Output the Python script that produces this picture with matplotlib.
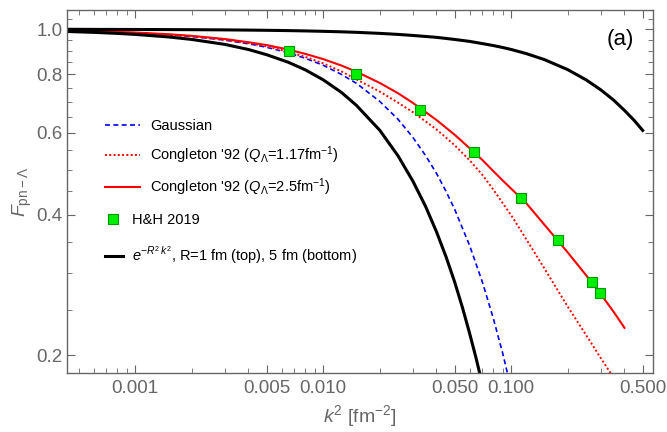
import matplotlib
matplotlib.use("Agg")
import matplotlib.pyplot as plt
from matplotlib.ticker import FixedLocator, FixedFormatter, NullFormatter

plt.rcParams['font.family'] = ['Liberation Sans', 'DejaVu Sans']
plt.rcParams['mathtext.fontset'] = 'custom'
plt.rcParams['mathtext.rm'] = 'Liberation Sans'
plt.rcParams['mathtext.it'] = 'Liberation Sans:italic'
plt.rcParams['mathtext.bf'] = 'Liberation Sans:bold'

# values (k^2 in fm^-2)
k2 = [0.00044, 0.0006, 0.0008, 0.001, 0.0015, 0.002, 0.003, 0.004, 0.005, 0.0065,
      0.008, 0.01, 0.0125, 0.015, 0.02, 0.025, 0.03, 0.04, 0.05, 0.06, 0.07, 0.08,
      0.09, 0.1, 0.12, 0.15, 0.2, 0.25, 0.3, 0.35, 0.4, 0.45, 0.5]

# R = 1 fm (top black curve)
F_R1 = [1.000, 0.9994, 0.9992, 0.999, 0.9985, 0.998, 0.997, 0.996, 0.995, 0.9935,
        0.992, 0.990, 0.9876, 0.9851, 0.980, 0.975, 0.970, 0.961, 0.951, 0.942, 0.932,
        0.923, 0.914, 0.905, 0.887, 0.861, 0.819, 0.779, 0.741, 0.705, 0.670, 0.638, 0.607]

# R = 5 fm (bottom black curve)
k2_R5 = [0.00044, 0.0006, 0.0008, 0.001, 0.0015, 0.002, 0.003, 0.004, 0.005, 0.0065,
         0.008, 0.01, 0.0125, 0.015, 0.02, 0.025, 0.03, 0.035, 0.04, 0.045, 0.05,
         0.055, 0.06, 0.065, 0.07]
F_R5 = [0.989, 0.985, 0.980, 0.975, 0.963, 0.951, 0.928, 0.905, 0.882, 0.850, 0.819,
        0.779, 0.732, 0.687, 0.607, 0.535, 0.472, 0.417, 0.368, 0.325, 0.287, 0.253,
        0.223, 0.197, 0.174]

# Gaussian
k2_gauss = [0.00044, 0.0006, 0.0008, 0.001, 0.0015, 0.002, 0.003, 0.004, 0.005, 0.0065,
            0.008, 0.01, 0.0125, 0.015, 0.02, 0.025, 0.03, 0.035, 0.04, 0.045, 0.05,
            0.06, 0.07, 0.08, 0.09, 0.1]
F_gauss = [0.992, 0.989, 0.986, 0.982, 0.974, 0.965, 0.948, 0.931, 0.915, 0.891, 0.867,
           0.837, 0.800, 0.766, 0.700, 0.641, 0.586, 0.536, 0.491, 0.449, 0.411, 0.344,
           0.288, 0.241, 0.202, 0.169]

# Congleton '92, Q = 1.17 fm^-1
F_cong117 = [0.992, 0.990, 0.986, 0.983, 0.974, 0.966, 0.949, 0.934, 0.919, 0.895, 0.873,
             0.845, 0.812, 0.781, 0.735, 0.696, 0.664, 0.610, 0.564, 0.524, 0.488, 0.454,
             0.424, 0.399, 0.355, 0.307, 0.254, 0.221, 0.197, 0.179]

# Congleton '92, Q = 2.5 fm^-1
F_cong25 = [0.993, 0.990, 0.987, 0.984, 0.976, 0.968, 0.953, 0.938, 0.925, 0.905, 0.886,
            0.863, 0.836, 0.811, 0.767, 0.729, 0.695, 0.639, 0.594, 0.556, 0.525, 0.497,
            0.474, 0.455, 0.424, 0.381, 0.332, 0.297, 0.270, 0.248, 0.229]

# H&H 2019 points
k2_hh = [0.00657, 0.01487, 0.0326, 0.0633, 0.1126, 0.1765, 0.2677, 0.2963]
F_hh = [0.898, 0.801, 0.671, 0.5455, 0.4355, 0.3533, 0.2872, 0.2720]

gray = '#666666'

fig = plt.figure(figsize=(6.67, 4.32), dpi=100)
ax = fig.add_axes([0.1004, 0.1359, 0.879, 0.841])

l_gauss, = ax.plot(k2_gauss, F_gauss, color='#0000ff', lw=1.2, ls=(0, (3, 2)))
l_c117, = ax.plot(k2[:len(F_cong117)], F_cong117, color='#ff0000', lw=1.4, ls=(0, (1, 1.2)))
l_c25, = ax.plot(k2[:len(F_cong25)], F_cong25, color='#ff0000', lw=1.5)
l_hh, = ax.plot(k2_hh, F_hh, ls='none', marker='s', ms=7, mfc='#00ee00', mec='#009900',
                mew=0.8, zorder=5)
l_r1, = ax.plot(k2, F_R1, color='black', lw=2.2)
ax.plot(k2_R5, F_R5, color='black', lw=2.2)

ax.set_xscale('log')
ax.set_yscale('log')
ax.set_xlim(0.000433, 0.569)
ax.set_ylim(0.183, 1.10)

# ticks
xmaj = [0.001, 0.005, 0.01, 0.05, 0.1, 0.5]
xmin = [m * d for d in [0.0001, 0.001, 0.01, 0.1] for m in range(1, 10)]
xmin = [v for v in xmin if v not in xmaj and 0.0004 < v < 0.6]
ax.xaxis.set_major_locator(FixedLocator(xmaj))
ax.xaxis.set_major_formatter(FixedFormatter(['0.001', '0.005', '0.010', '0.050', '0.100', '0.500']))
ax.xaxis.set_minor_locator(FixedLocator(xmin))
ax.xaxis.set_minor_formatter(NullFormatter())

ymaj = [0.2, 0.4, 0.6, 0.8, 1.0]
ymin = [0.25, 0.3, 0.35, 0.45, 0.5, 0.55, 0.65, 0.7, 0.75, 0.85, 0.9, 0.95, 1.05]
ax.yaxis.set_major_locator(FixedLocator(ymaj))
ax.yaxis.set_major_formatter(FixedFormatter(['0.2', '0.4', '0.6', '0.8', '1.0']))
ax.yaxis.set_minor_locator(FixedLocator(ymin))
ax.yaxis.set_minor_formatter(NullFormatter())

ax.tick_params(which='both', direction='in', top=True, right=True, color=gray,
               labelcolor=gray, labelsize=13.5)
ax.tick_params(which='major', length=6, width=0.8)
ax.tick_params(which='minor', length=3.5, width=0.6)
ax.tick_params(axis='x', pad=5)
ax.tick_params(axis='y', pad=3)
for s in ax.spines.values():
    s.set_color(gray)
    s.set_linewidth(1.0)

ax.set_xlabel('$k^2$ [fm$^{-2}$]', fontsize=14, color=gray, labelpad=4)
ax.set_ylabel('$F_{\\mathrm{pn-}\\Lambda}$', fontsize=14, color=gray, labelpad=2)

ax.text(0.944, 0.92, '(a)', transform=ax.transAxes, fontsize=16, ha='center', va='center')

# legend in three pieces, like the Mathematica one
leg_opts = dict(frameon=False, fontsize=10.5, borderpad=0, borderaxespad=0, loc='center left')
leg1 = ax.legend([l_gauss, l_c117, l_c25],
                 ['Gaussian', "Congleton '92 ($Q_\\Lambda$=1.17fm$^{-1}$)",
                  "Congleton '92 ($Q_\\Lambda$=2.5fm$^{-1}$)"],
                 bbox_to_anchor=(0.0648, 0.5906), handlelength=2.4, handletextpad=0.68,
                 labelspacing=0.75, **leg_opts)
ax.add_artist(leg1)
leg2 = ax.legend([l_hh], ['H&H 2019'], bbox_to_anchor=(0.0686, 0.422), handlelength=0.8,
                 handletextpad=0.88, **leg_opts)
ax.add_artist(leg2)
ax.legend([l_r1], ['$e^{-R^2\\,k^2}$, R=1 fm (top), 5 fm (bottom)'],
          bbox_to_anchor=(0.0648, 0.3237), handlelength=1.25, handletextpad=0.57, **leg_opts)

fig.savefig('out.png', dpi=100)
